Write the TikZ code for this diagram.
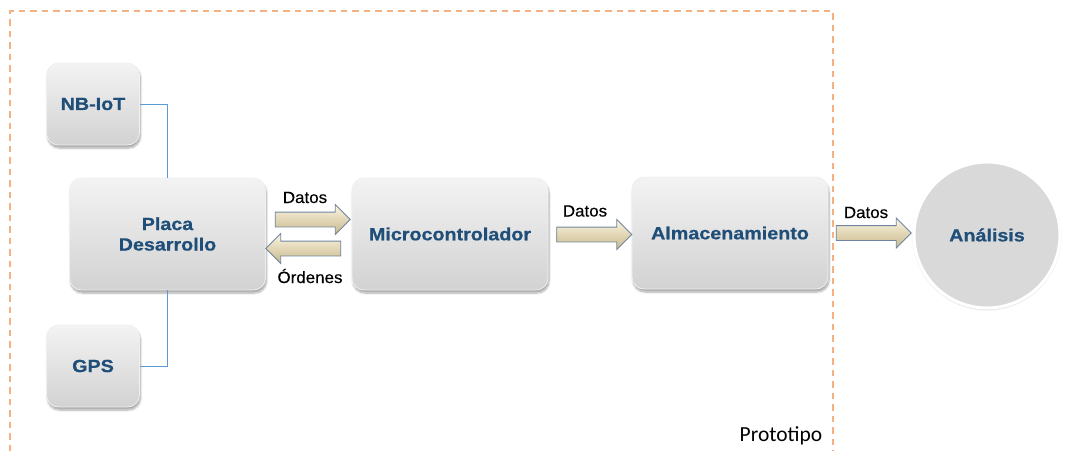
\documentclass[tikz,border=0pt]{standalone}
\usepackage{fontspec}
\setmainfont{Liberation Sans}
\newfontfamily\boxfont[FakeStretch=1.12,FakeBold=0.6]{Liberation Sans}
\newfontfamily\labfont[FakeStretch=1.04,FakeBold=0.3]{Liberation Sans}
\newfontfamily\protofont{Carlito}
\usetikzlibrary{shapes.arrows,shadows.blur}

\definecolor{boxtop}{HTML}{F3F3F3}
\definecolor{boxmid}{HTML}{DCDCDC}
\definecolor{boxbot}{HTML}{D2D2D2}
\definecolor{boxtext}{HTML}{1F4E79}
\definecolor{frameorange}{HTML}{F4B183}
\definecolor{linkblue}{HTML}{5B9BD5}
\definecolor{arrtop}{HTML}{FBF6E2}
\definecolor{arrmid}{HTML}{EFE5C2}
\definecolor{arrbot}{HTML}{C8B78A}
\definecolor{arrline}{HTML}{6F84A0}
\definecolor{circfill}{HTML}{D9D9D9}

\tikzset{
  block/.style={rounded corners=12pt, top color=boxtop, middle color=boxmid,
    bottom color=boxbot, draw=white!88!gray, line width=0.8pt,
    blur shadow={shadow blur steps=6, shadow xshift=1pt, shadow yshift=-3pt,
      shadow opacity=35},
    align=center, text=boxtext, font=\boxfont\bfseries\fontsize{17.6}{20.5}\selectfont},
  smallblock/.style={block, minimum width=93pt, minimum height=82pt},
  bigblock/.style={block, minimum width=196pt, minimum height=112pt},
  flow/.style={shape=single arrow, single arrow head extend=7.5pt,
    single arrow tip angle=90, minimum height=75pt, inner xsep=0pt, inner ysep=7pt,
    top color=arrtop, middle color=arrmid, bottom color=arrbot,
    draw=arrline, line width=0.8pt},
  flowlabel/.style={anchor=base, text=black, font=\labfont\fontsize{16.3}{18}\selectfont},
  link/.style={draw=linkblue, line width=0.8pt},
  frame/.style={draw=frameorange, line width=1.3pt, dash pattern=on 6.5pt off 5pt},
}

\begin{document}
\begin{tikzpicture}[x=1pt, y=-1pt]
\useasboundingbox (0,0) rectangle (1065,451);

% prototype frame (open at the bottom edge)
\draw[frame] (10,451) -- (10,11) -- (833,11) -- (833,451);
\node[anchor=base, font=\protofont\fontsize{21.5}{24}\selectfont] (proto) at (781,441) {Prototipo};

% side modules
\node[smallblock] (nbiot) at (93,104) {NB-IoT};
\node[smallblock] (gps) at (93,366) {GPS};

% main chain
\node[bigblock] (placa) at (167.5,234) {Placa\\Desarrollo};
\node[bigblock] (micro) at (450,234) {Microcontrolador};
\node[bigblock] (almac) at (730,233) {Almacenamiento};

% analysis stage
\node[circle, minimum size=146pt, fill=circfill, draw=white, line width=3pt,
  blur shadow={shadow blur steps=6, shadow xshift=0pt, shadow yshift=-1pt, shadow opacity=30},
  text=boxtext, font=\boxfont\bfseries\fontsize{17.6}{20.5}\selectfont] (anal) at (987,235) {Análisis};

% module links to the development board
\draw[link] (nbiot.east) -| (placa.north);
\draw[link] (gps.east) -| (placa.south);

% data flow arrows
\node[flow] (a1) at (309,219.5) {};
\node[flow, shape border rotate=180] (a2) at (307,248.5) {};
\node[flow] (a3) at (590.5,234.5) {};
\node[flow] (a4) at (870,233) {};

\node[flowlabel] (l1) at (305,203) {Datos};
\node[flowlabel] (l2) at (310,283) {Órdenes};
\node[flowlabel] (l3) at (585,216.5) {Datos};
\node[flowlabel] (l4) at (866,218) {Datos};
\end{tikzpicture}
\end{document}
